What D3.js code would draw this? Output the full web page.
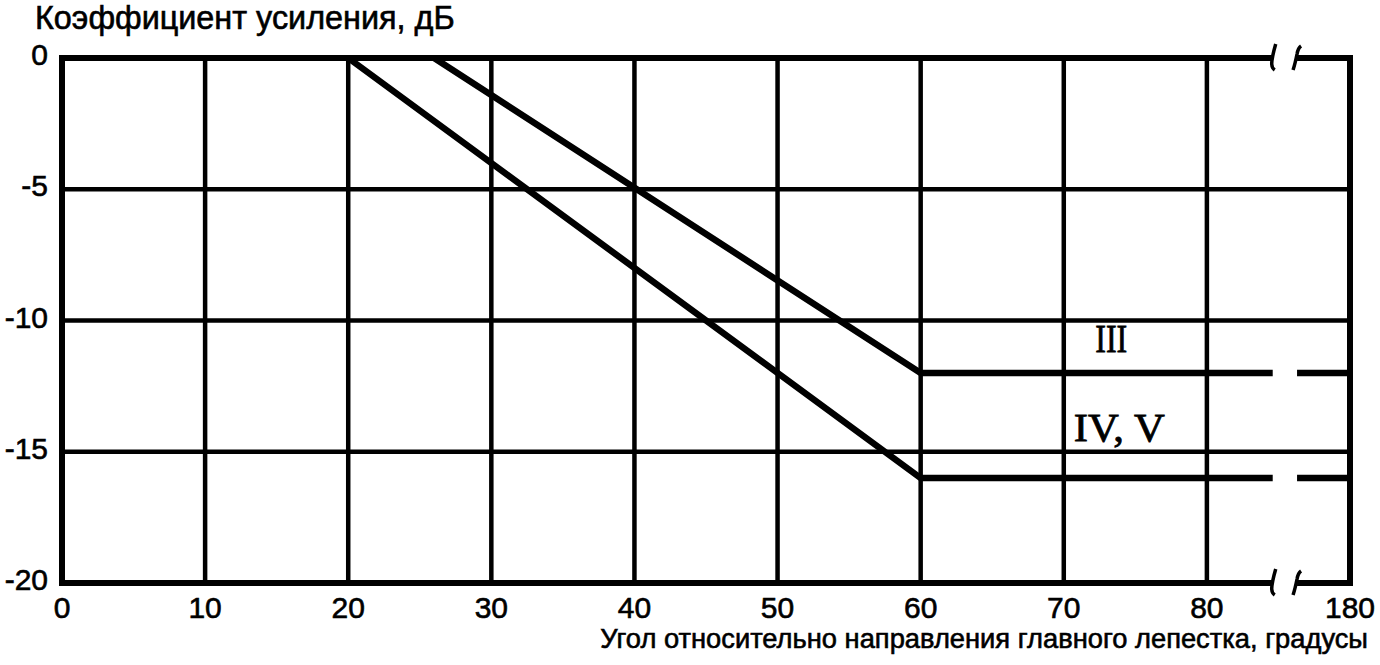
<!DOCTYPE html>
<html><head><meta charset="utf-8">
<script src="https://cdn.jsdelivr.net/npm/d3@7"></script>
<style>body{margin:0;background:#fff;} svg{display:block;}</style>
</head><body>
<svg id="c" width="1380" height="665"></svg>
<script>
const xTicks = [0,10,20,30,40,50,60,70,80,90];
const xTickLabels = ["0","10","20","30","40","50","60","70","80","180"];
const yTicks = [0,-5,-10,-15,-20];
const yTickLabels = ["0","-5","-10","-15","-20"];
const seriesIII = [{x:26,y:0},{x:60,y:-12},{x:90,y:-12}];
const seriesIVV = [{x:20,y:0},{x:60,y:-16},{x:90,y:-16}];
const breakRange = [84.6, 86.3];
const seriesLabels = [{text:"III", x:72.2, y:-11.2, w:32},{text:"IV, V", x:70.7, y:-14.6, w:91}];

const svg = d3.select("#c");
const L=62, R=1350, T=58, B=583;
const x = d3.scaleLinear().domain([0,90]).range([L,R]);
const y = d3.scaleLinear().domain([0,-20]).range([T,B]);
const sansFont = "'Liberation Sans', Arial, sans-serif";

// grid
svg.append("g").selectAll("line").data(yTicks.slice(1,-1)).join("line")
  .attr("x1",L).attr("x2",R).attr("y1",d=>y(d)).attr("y2",d=>y(d))
  .attr("stroke","#000").attr("stroke-width",4.5);
svg.append("g").selectAll("line").data(xTicks.slice(1,-1)).join("line")
  .attr("y1",T).attr("y2",B).attr("x1",d=>x(d)).attr("x2",d=>x(d))
  .attr("stroke","#000").attr("stroke-width",4.5);

// frame with breaks
const bx0 = x(breakRange[0]), bx1 = x(breakRange[1]);
const frame = svg.append("g").attr("stroke","#000").attr("stroke-width",6).attr("fill","none");
[T,B].forEach(yy=>{
  frame.append("line").attr("x1",L-3).attr("x2",bx0).attr("y1",yy).attr("y2",yy);
  frame.append("line").attr("x1",bx1).attr("x2",R+3).attr("y1",yy).attr("y2",yy);
  frame.append("path").attr("stroke-width",3.5)
    .attr("d",`M${bx0+3},${yy-14} Q${bx0-1},${yy} ${bx0-1},${yy+6} Q${bx0-1},${yy+10} ${bx0+2},${yy+12}`);
  frame.append("path").attr("stroke-width",3.5)
    .attr("d",`M${bx1+4},${yy-12} Q${bx1+1},${yy-10} ${bx1},${yy-4} Q${bx1-2},${yy+6} ${bx1-4},${yy+12}`);
});
frame.append("line").attr("x1",L).attr("x2",L).attr("y1",T).attr("y2",B);
frame.append("line").attr("x1",R).attr("x2",R).attr("y1",T).attr("y2",B);

// clip for curve gap
const defs = svg.append("defs");
const cp = defs.append("clipPath").attr("id","gap");
cp.append("rect").attr("x",0).attr("y",0).attr("width",bx0).attr("height",665);
cp.append("rect").attr("x",bx1).attr("y",0).attr("width",1380-bx1).attr("height",665);

const line = d3.line().x(d=>x(d.x)).y(d=>y(d.y));
const curves = svg.append("g").attr("clip-path","url(#gap)");
[seriesIII, seriesIVV].forEach(s=>{
  curves.append("path").attr("d",line(s)).attr("fill","none")
    .attr("stroke","#000").attr("stroke-width",6.5).attr("stroke-linejoin","miter");
});

// tick labels
svg.append("g").selectAll("text").data(xTicks).join("text")
  .attr("x",d=>x(d)).attr("y",618).attr("text-anchor","middle")
  .attr("font-family",sansFont).attr("font-size",30)
  .attr("stroke","#000").attr("stroke-width",0.6)
  .text((d,i)=>xTickLabels[i]);
svg.append("g").selectAll("text").data(yTicks).join("text")
  .attr("x",48).attr("y",d=>y(d)+7).attr("text-anchor","end")
  .attr("font-family",sansFont).attr("font-size",30)
  .attr("stroke","#000").attr("stroke-width",0.6)
  .text((d,i)=>yTickLabels[i]);

// axis titles, font size fitted to target width
function fitText(sel, target, base){
  sel.attr("font-size", base);
  const w = sel.node().getComputedTextLength();
  sel.attr("font-size", base*target/w);
}
const yTitle = svg.append("text").attr("x",35).attr("y",29).attr("font-family",sansFont)
  .attr("stroke","#000").attr("stroke-width",0.6)
  .text("Коэффициент усиления, дБ");
fitText(yTitle, 420, 30);
const xTitle = svg.append("text").attr("x",1368).attr("y",648).attr("text-anchor","end")
  .attr("font-family",sansFont)
  .attr("stroke","#000").attr("stroke-width",0.6)
  .text("Угол относительно направления главного лепестка, градусы");
fitText(xTitle, 768, 29);

// series labels
svg.append("g").selectAll("text").data(seriesLabels).join("text")
  .attr("x",d=>x(d.x)).attr("y",d=>y(d.y))
  .attr("font-family","'Liberation Serif', 'Times New Roman', serif").attr("font-size",40)
  .attr("stroke","#000").attr("stroke-width",0.8)
  .attr("textLength",d=>d.w).attr("lengthAdjust","spacingAndGlyphs")
  .text(d=>d.text);
</script>
</body></html>
